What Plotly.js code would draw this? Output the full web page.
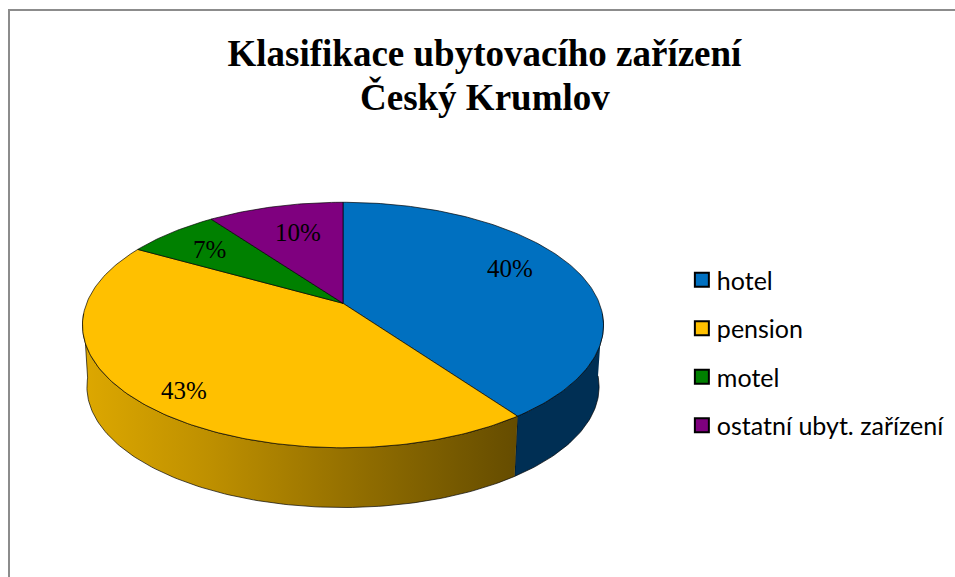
<!DOCTYPE html>
<html>
<head>
<meta charset="utf-8">
<script src="https://cdn.plot.ly/plotly-3.0.1.min.js"></script>
<style>html,body{margin:0;padding:0;background:#fff}#chart{width:955px;height:577px}</style>
</head>
<body>
<div id="chart"></div>
<script>
const categories = ["hotel", "pension", "motel", "ostatní ubyt. zařízení"];
const shares = [40.1, 43.1, 6.8, 10];
const topColors = ["#0070C0", "#FFC000", "#008000", "#7F007F"];
const labelAnchors = [[510, 268], [184, 390], [209, 249.5], [298, 232]];
const titleLines = ["Klasifikace ubytovacího zařízení", "Český Krumlov"];

// Perspective pie geometry, in plot units (the axes run in the page's size)
const cx = 343, topY = 303.3, baseY = 365.5;
const radX = 256.4, radY = 118.9, tilt = 0.177, baseScale = 0.983;

function rim(deg, isBase) {
  const a = deg * Math.PI / 180, u = Math.sin(a), v = Math.cos(a), w = 1 + tilt * v;
  const s = isBase ? baseScale : 1;
  return [cx + s * radX * u / w, (isBase ? baseY : topY) - s * radY * v / w];
}
function arc(a0, a1, isBase) {
  const pts = [], n = Math.max(2, Math.ceil(Math.abs(a1 - a0)));
  for (let i = 0; i <= n; i++) pts.push(rim(a0 + (a1 - a0) * i / n, isBase));
  return pts;
}
const outline = {color: "rgba(0,0,0,0.85)", width: 0.8};
function poly(pts, extra) {
  return Object.assign({
    x: pts.map(p => p[0]), y: pts.map(p => p[1]),
    type: "scatter", mode: "lines", fill: "toself", line: outline,
    hoverinfo: "skip", showlegend: false
  }, extra);
}

const total = shares.reduce((a, b) => a + b, 0);
const traces = [];
const startAngles = [];
let running = 0;
shares.forEach(v => { startAngles.push(running / total * 360); running += v; });

// Side wall: hotel part (dark blue) and pension part (gradient)
const split = startAngles[1];
traces.push(poly(arc(95, split, false).concat(arc(split, 95, true)), {fillcolor: "#002F54"}));
traces.push(poly(arc(split, 265, false).concat(arc(265, split, true)), {
  fillcolor: "#B88B00",
  fillgradient: {type: "horizontal",
    colorscale: [[0, "#DDA800"], [0.3, "#BD8F00"], [0.6, "#967100"], [0.85, "#775A00"], [1, "#654C00"]]}
}));
// Top slices
shares.forEach((v, i) => {
  const a0 = startAngles[i], a1 = a0 + v / total * 360;
  const pts = [[cx, topY]].concat(arc(a0, a1, false), [[cx, topY]]);
  traces.push(poly(pts, {fillcolor: topColors[i]}));
});
// Legend entries
categories.forEach((c, i) => {
  traces.push({
    x: [null], y: [null], type: "scatter", mode: "markers", name: c,
    legendgroup: c, showlegend: true,
    marker: {symbol: "square", size: 14, color: topColors[i], line: {color: "#000", width: 2}}
  });
});

const hidden = {visible: false, fixedrange: true};
const titleFont = {family: "Liberation Serif", size: 37, color: "#000", weight: "bold"};
const layout = {
  width: 955, height: 577,
  margin: {l: 0, r: 0, t: 0, b: 0},
  paper_bgcolor: "#fff", plot_bgcolor: "#fff",
  title: {
    text: titleLines[0], x: 0.5073, xanchor: "center", y: 0.908, yanchor: "middle", font: titleFont
  },
  xaxis: Object.assign({range: [0, 955]}, hidden),
  yaxis: Object.assign({range: [577, 0]}, hidden),
  legend: {
    x: 0.714, xanchor: "left", y: 0.389, yanchor: "middle",
    font: {family: "Lato", size: 25, color: "#000"},
    tracegroupgap: 13, indentation: -5, bgcolor: "rgba(0,0,0,0)", itemclick: false, itemdoubleclick: false
  },
  shapes: [
    {type: "line", xref: "x", yref: "y", x0: 9, x1: 9, y0: 10, y1: 577, line: {color: "#8C8C8C", width: 2}},
    {type: "line", xref: "x", yref: "y", x0: 8, x1: 955, y0: 10, y1: 10, line: {color: "#8C8C8C", width: 2}}
  ],
  annotations: shares.map((v, i) => ({
    x: labelAnchors[i][0], y: labelAnchors[i][1], xref: "x", yref: "y",
    text: Math.round(v) + "%", showarrow: false,
    font: {family: "Liberation Serif", size: 25, color: "#000"}
  })).concat([{
    x: 484.5, y: 97, xref: "x", yref: "y", text: titleLines[1], showarrow: false, font: titleFont
  }]),
  showlegend: true
};
Plotly.newPlot("chart", traces, layout, {displayModeBar: false}).then(gd => {
  gd.querySelectorAll(".legendpoints").forEach(g => g.setAttribute("transform", "translate(5,0)"));
});
</script>
</body>
</html>
